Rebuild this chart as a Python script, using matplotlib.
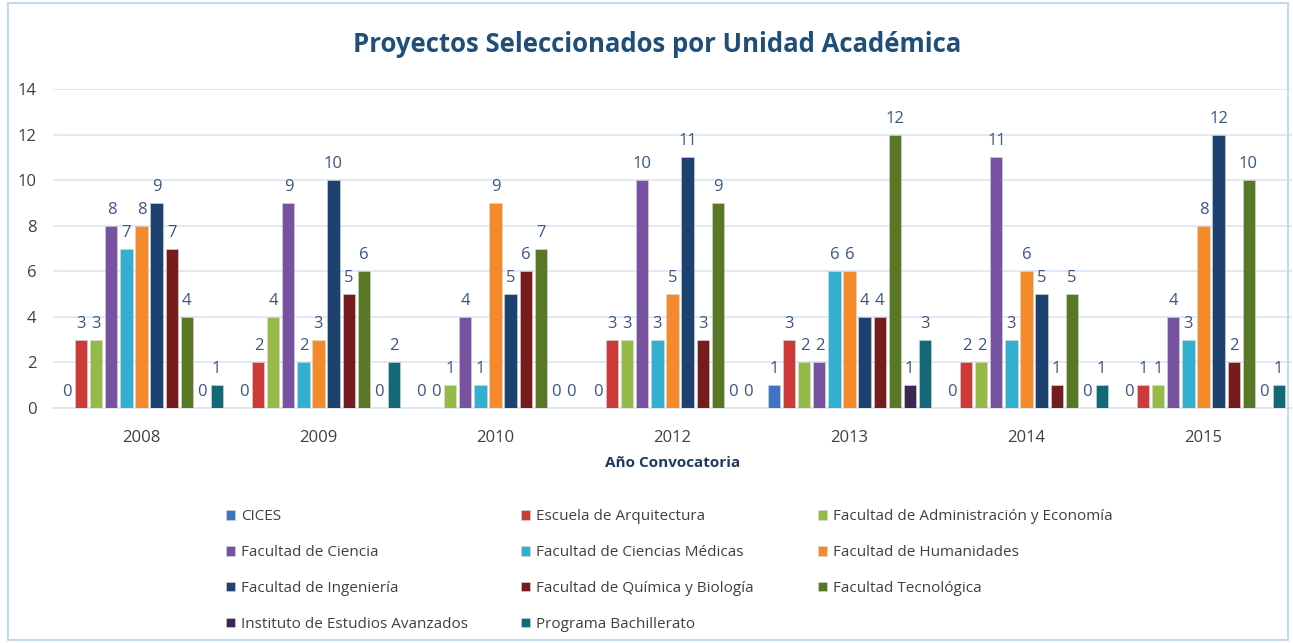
import numpy as np
import matplotlib
matplotlib.use('Agg')
import matplotlib.pyplot as plt
from matplotlib.patches import Rectangle

plt.rcParams['font.family'] = ['Open Sans', 'DejaVu Sans']

years = ['2008', '2009', '2010', '2012', '2013', '2014', '2015']
units = ['CICES', 'Escuela de Arquitectura', 'Facultad de Administración y Economía',
         'Facultad de Ciencia', 'Facultad de Ciencias Médicas', 'Facultad de Humanidades',
         'Facultad de Ingeniería', 'Facultad de Química y Biología', 'Facultad Tecnológica',
         'Instituto de Estudios Avanzados', 'Programa Bachillerato']

cices    = [0, 0, 0, 0, 1, 0, 0]
arq      = [3, 2, 0, 3, 3, 2, 1]
admin    = [3, 4, 1, 3, 2, 2, 1]
ciencia  = [8, 9, 4, 10, 2, 11, 4]
medicas  = [7, 2, 1, 3, 6, 3, 3]
human    = [8, 3, 9, 5, 6, 6, 8]
ingen    = [9, 10, 5, 11, 4, 5, 12]
quimica  = [7, 5, 6, 3, 4, 1, 2]
tecno    = [4, 6, 7, 9, 12, 5, 10]
instituto = [0, 0, 0, 0, 1, 0, 0]
bachill  = [1, 2, 0, 0, 3, 1, 1]

series = [cices, arq, admin, ciencia, medicas, human, ingen, quimica, tecno, instituto, bachill]
colors = ['#3F74C2', '#CC3B38', '#95BA48', '#7652A0', '#33AFD0', '#F58A2A',
          '#1D426F', '#761C1C', '#587825', '#3B2752', '#136878']

txt = '#3A5683'

fig = plt.figure(figsize=(12.93, 6.43), dpi=100)
ax = fig.add_axes([53 / 1293, 1 - 408 / 643, (1292 - 53) / 1293, (408 - 89) / 643])

x = np.arange(len(years))
step = 0.0848
width = 0.068
n = len(series)
handles = []
for i, (vals, c, name) in enumerate(zip(series, colors, units)):
    pos = x + (i - (n - 1) / 2) * step
    bars = ax.bar(pos, vals, width, color=c, label=name, zorder=3,
                  edgecolor='#d8d8d8', linewidth=0.4)
    handles.append(bars)
    for p, v in zip(pos, vals):
        ax.text(p, v + 0.35, str(v), ha='center', va='bottom', fontsize=12,
                color=txt, zorder=4)

ax.set_xlim(-0.5, len(years) - 0.5)
ax.set_ylim(0, 14)
ax.set_yticks(range(0, 15, 2))
ax.set_xticks(x)
ax.set_xticklabels(years)
ax.tick_params(axis='both', length=0, labelsize=12, labelcolor='#404040')
ax.tick_params(axis='y', pad=12)
ax.tick_params(axis='x', pad=16)
ax.grid(axis='y', color='#dce6f2', linewidth=1.2, zorder=0)
for s in ['top', 'right', 'left']:
    ax.spines[s].set_visible(False)
ax.spines['bottom'].set_color('#dce6f2')
ax.spines['bottom'].set_linewidth(1.2)

ax.set_xlabel('Año Convocatoria', fontsize=11, fontweight='bold', color='#1F3A60', labelpad=7)

fig.text(0.508, 1 - 45 / 643, 'Proyectos Seleccionados por Unidad Académica', ha='center',
         va='center', fontsize=18.5, fontweight='bold', color='#1F4E79')

# legend: three columns placed by hand, filled row by row
col_x = [220, 515, 812]
for c in range(3):
    idx = list(range(c, n, 3))
    leg = fig.legend([handles[k] for k in idx], [units[k] for k in idx],
                     loc='upper left', bbox_to_anchor=(col_x[c] / 1293, 1 - 503 / 643),
                     frameon=False, fontsize=11, handlelength=0.6, handleheight=0.6,
                     handletextpad=0.4, labelspacing=1.37, borderaxespad=0)
    for t in leg.get_texts():
        t.set_color('#404040')

fig.patches.append(Rectangle((8 / 1293, 3 / 643), 1280 / 1293, 637 / 643, transform=fig.transFigure,
                             fill=False, edgecolor='#c5d9ee', linewidth=1.5))

fig.savefig('out.png', dpi=100)
